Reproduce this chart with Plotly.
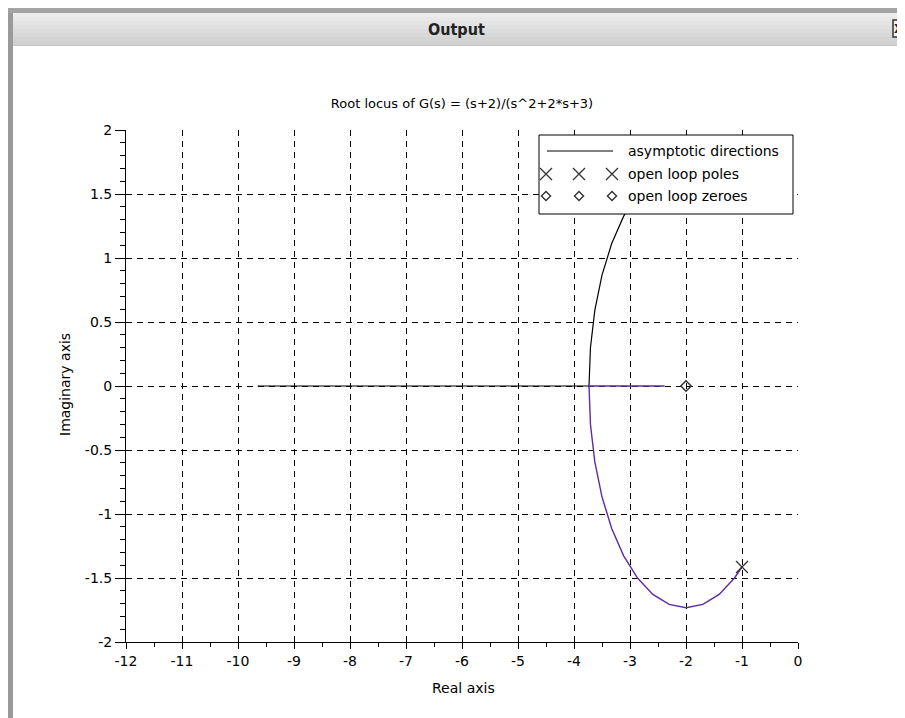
import plotly.graph_objects as go

# ---------------- data ----------------
upper_re = [-1.000, -1.134, -1.408, -1.699, -2.000, -2.301, -2.592, -2.866,
            -3.113, -3.327, -3.500, -3.628, -3.706, -3.732, -9.65]
upper_im = [1.414, 1.500, 1.628, 1.706, 1.732, 1.706, 1.628, 1.500,
            1.327, 1.113, 0.866, 0.592, 0.301, 0.0, 0.0]

lower_re = [-1.000, -1.134, -1.408, -1.699, -2.000, -2.301, -2.592, -2.866,
            -3.113, -3.327, -3.500, -3.628, -3.706, -3.732, -2.38]
lower_im = [-1.414, -1.500, -1.628, -1.706, -1.732, -1.706, -1.628, -1.500,
            -1.327, -1.113, -0.866, -0.592, -0.301, 0.0, 0.0]

pole_re = [-1.0, -1.0]
pole_im = [1.414, -1.414]
zero_re = [-2.0]
zero_im = [0.0]

x_ticks = [-12, -11, -10, -9, -8, -7, -6, -5, -4, -3, -2, -1, 0]
x_labels = ["-12", "-11", "-10", "-9", "-8", "-7", "-6", "-5", "-4", "-3", "-2", "-1", "0"]
y_ticks = [-2, -1.5, -1, -0.5, 0, 0.5, 1, 1.5, 2]
y_labels = ["-2", "-1.5", "-1", "-0.5", "0", "0.5", "1", "1.5", "2"]

title_text = "Root locus of G(s) = (s+2)/(s^2+2*s+3)"
legend_names = ["asymptotic directions", "open loop poles", "open loop zeroes"]

# ---------------- layout helpers (page pixel -> paper) ----------------
PAGE_W, PAGE_H = 905, 718
OFF = 8                       # default page body margin
W, H = PAGE_W - OFF, PAGE_H - OFF
L, R, T, B = 126, 798, 130, 642   # plot area in page pixels


def px(x):
    return (x - L) / (R - L)


def py(y):
    return (B - y) / (B - T)


FONT = "DejaVu Sans, Liberation Sans, sans-serif"
PURPLE = "#5a2ca6"
MARK = "#333333"

fig = go.Figure()

# root locus branches
fig.add_trace(go.Scatter(x=upper_re, y=upper_im, mode="lines",
                         line=dict(color="black", width=1.2), showlegend=False,
                         hoverinfo="skip"))
fig.add_trace(go.Scatter(x=lower_re, y=lower_im, mode="lines",
                         line=dict(color=PURPLE, width=1.4), showlegend=False,
                         hoverinfo="skip"))
# poles and zeros
fig.add_trace(go.Scatter(x=pole_re, y=pole_im, mode="markers",
                         marker=dict(symbol="x-thin-open", size=12, color=MARK,
                                     line=dict(color=MARK, width=1.3)),
                         showlegend=False, hoverinfo="skip"))
fig.add_trace(go.Scatter(x=zero_re, y=zero_im, mode="markers",
                         marker=dict(symbol="diamond-open", size=8, color=MARK,
                                     line=dict(color=MARK, width=1.5)),
                         showlegend=False, hoverinfo="skip"))

# ---------------- custom legend on an overlay axis (0..1 = plot area) ----------------
bx0, bx1, by0, by1 = px(539), px(793), py(214), py(135)
fig.add_trace(go.Scatter(x=[bx0, bx1, bx1, bx0, bx0], y=[by0, by0, by1, by1, by0],
                         mode="lines", fill="toself", fillcolor="white",
                         line=dict(color="black", width=1), xaxis="x2", yaxis="y2",
                         showlegend=False, hoverinfo="skip"))
fig.add_trace(go.Scatter(x=[px(547), px(613)], y=[py(151), py(151)], mode="lines",
                         line=dict(color="black", width=1.2), xaxis="x2", yaxis="y2",
                         showlegend=False, hoverinfo="skip"))
fig.add_trace(go.Scatter(x=[px(546), px(579), px(612)], y=[py(174)] * 3, mode="markers",
                         marker=dict(symbol="x-thin-open", size=12, color=MARK,
                                     line=dict(color=MARK, width=1.3)),
                         xaxis="x2", yaxis="y2", showlegend=False, hoverinfo="skip"))
fig.add_trace(go.Scatter(x=[px(546), px(579), px(612)], y=[py(196)] * 3, mode="markers",
                         marker=dict(symbol="diamond-open", size=7, color=MARK,
                                     line=dict(color=MARK, width=1.4)),
                         xaxis="x2", yaxis="y2", showlegend=False, hoverinfo="skip"))

annotations = []
for name, yy in zip(legend_names, [151, 174, 196]):
    annotations.append(dict(text=name, x=px(626), y=py(yy), xref="paper", yref="paper",
                            xanchor="left", yanchor="middle", showarrow=False,
                            font=dict(family=FONT, size=14, color="black")))

# axis titles
annotations.append(dict(text="Real axis", x=px(463), y=py(688), xref="paper", yref="paper",
                        xanchor="center", yanchor="middle", showarrow=False,
                        font=dict(family=FONT, size=14, color="black")))
annotations.append(dict(text="Imaginary axis", x=px(65), y=py(385), xref="paper", yref="paper",
                        xanchor="center", yanchor="middle", showarrow=False, textangle=-90,
                        font=dict(family=FONT, size=14, color="black")))
# window title
annotations.append(dict(text="<b>Output</b>", x=px(456), y=py(29), xref="paper", yref="paper",
                        xanchor="center", yanchor="middle", showarrow=False,
                        font=dict(family="DejaVu Sans Condensed, Liberation Sans Narrow, Liberation Sans, sans-serif",
                                  size=16, color="#222222")))
annotations.append(dict(text="<b>X</b>", x=px(898.5), y=py(28.5), xref="paper", yref="paper",
                        xanchor="center", yanchor="middle", showarrow=False,
                        font=dict(family=FONT, size=12, color="#222222")))

# ---------------- window chrome ----------------
shapes = []
# title bar gradient bands
bands = ["#ececec", "#e8e8e8", "#e4e4e4", "#e0e0e0", "#dcdcdc", "#d8d8d8", "#d4d4d4", "#d0d0d0"]
top, bottom = 13, 45
step = (bottom - top) / len(bands)
for i, c in enumerate(bands):
    shapes.append(dict(type="rect", xref="paper", yref="paper", x0=px(10), x1=px(910),
                       y0=py(top + (i + 1) * step), y1=py(top + i * step),
                       fillcolor=c, line=dict(width=0), layer="above"))
shapes.append(dict(type="line", xref="paper", yref="paper", x0=px(10), x1=px(910),
                   y0=py(45.5), y1=py(45.5), line=dict(color="#c4c4c4", width=1), layer="above"))
# window frame
shapes.append(dict(type="rect", xref="paper", yref="paper", x0=px(0), x1=px(13),
                   y0=py(720), y1=py(10), fillcolor="#9a9a9a", line=dict(width=0), layer="above"))
shapes.append(dict(type="rect", xref="paper", yref="paper", x0=px(0), x1=px(910),
                   y0=py(13), y1=py(0), fillcolor="#a4a4a4", line=dict(width=0), layer="above"))
# close button box
shapes.append(dict(type="rect", xref="paper", yref="paper", x0=px(893), x1=px(910),
                   y0=py(37), y1=py(20), fillcolor="#f2f2f2",
                   line=dict(color=MARK, width=1.5), layer="above"))

fig.update_layout(
    width=W, height=H,
    margin=dict(l=L - OFF, r=PAGE_W - R, t=T - OFF, b=PAGE_H - B, pad=0),
    paper_bgcolor="white", plot_bgcolor="white",
    title=dict(text=title_text, x=0.5, xref="paper", xanchor="center",
               y=1 - (103 - OFF) / H, yref="container", yanchor="middle",
               font=dict(family=FONT, size=13, color="black")),
    xaxis=dict(range=[-12, 0], tickvals=x_ticks, ticktext=x_labels,
               showgrid=True, gridcolor="black", griddash="6px,5px", gridwidth=1,
               zeroline=False, showline=True, linecolor="black", linewidth=1,
               ticks="outside", ticklen=6, tickcolor="black", tickwidth=1,
               minor=dict(dtick=0.5, ticks="outside", ticklen=4, tickcolor="black", showgrid=False),
               tickfont=dict(family=FONT, size=14, color="black"), fixedrange=True),
    yaxis=dict(range=[-2, 2], tickvals=y_ticks, ticktext=y_labels,
               showgrid=True, gridcolor="black", griddash="6px,5px", gridwidth=1,
               zeroline=False, showline=True, linecolor="black", linewidth=1,
               ticks="outside", ticklen=10, tickcolor="black", tickwidth=1,
               minor=dict(dtick=0.1, ticks="outside", ticklen=5, tickcolor="black", showgrid=False),
               tickfont=dict(family=FONT, size=14, color="black"), fixedrange=True),
    xaxis2=dict(range=[0, 1], overlaying="x", anchor="y2", visible=False, fixedrange=True),
    yaxis2=dict(range=[0, 1], overlaying="y", anchor="x2", visible=False, fixedrange=True),
    annotations=annotations,
    shapes=shapes,
    showlegend=False,
)

fig.write_html("out.html")
